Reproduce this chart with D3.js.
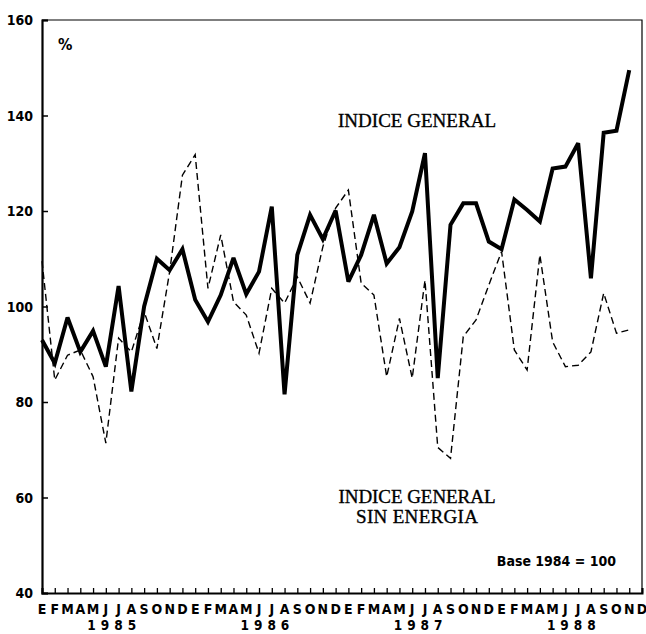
<!DOCTYPE html>
<html>
<head>
<meta charset="utf-8">
<title>Indice general</title>
<script src="https://d3js.org/d3.v7.min.js"></script>
<style>
	body { margin: 0; background: #fff; }
	svg { display: block; }
	.tick-label { font-family: "Liberation Sans Narrow", "DejaVu Sans Condensed", sans-serif; font-weight: bold; font-size: 14px; fill: #000; }
	.serif-label { font-family: "Liberation Serif", "DejaVu Serif", serif; font-size: 19px; fill: #000; stroke: #000; stroke-width: 0.35px; }
</style>
</head>
<body>
<svg id="chart" width="646" height="634"></svg>
<script>

	// months (Enero .. Diciembre) and years
	var monthLetters = ["E", "F", "M", "A", "M", "J", "J", "A", "S", "O", "N", "D"];
	var years = ["1985", "1986", "1987", "1988"];
	var yTicks = [40, 60, 80, 100, 120, 140, 160];

	// INDICE GENERAL, enero 1985 - noviembre 1988
	var general = [
		93.0, 88.1, 97.7, 90.5, 94.9, 87.4, 104.3, 82.2, 100.0, 110.0, 107.6, 112.0,
		101.4, 96.8, 102.4, 110.2, 102.6, 107.3, 120.9, 81.6, 110.8, 119.2, 114.1, 120.1,
		105.2, 110.8, 119.2, 109.0, 112.4, 119.9, 132.1, 85.0, 117.1, 121.6, 121.6, 113.6,
		112.0, 122.4, 120.2, 117.8, 128.9, 129.3, 134.2, 105.9, 136.4, 136.8, 149.5
	];

	// INDICE GENERAL SIN ENERGIA
	var sinEnergia = [
		109.5, 84.6, 89.8, 90.9, 85.3, 71.4, 93.4, 90.5, 98.9, 91.2, 107.3, 127.5,
		131.8, 103.8, 115.0, 101.0, 98.2, 90.2, 103.8, 100.7, 106.2, 100.7, 112.5, 120.6,
		124.4, 104.9, 102.4, 85.3, 97.5, 85.0, 105.5, 70.5, 68.2, 93.7, 97.2, 104.5,
		111.5, 90.9, 86.7, 110.8, 92.6, 87.4, 87.7, 90.5, 102.8, 94.4, 95.1
	];

	var plotLeft = 42, plotRight = 642, plotTop = 20, plotBottom = 593;

	// one key per month
	var months = [];
	years.forEach(function(yr) {
		monthLetters.forEach(function(m, i) { months.push(yr + "-" + i); });
	});

	var x = d3.scalePoint().domain(months).range([plotLeft, plotRight]);
	var y = d3.scaleLinear().domain([40, 160]).range([plotBottom, plotTop]);

	var svg = d3.select("#chart");

	// frame
	svg.append("path")
		.attr("d", "M" + plotLeft + "," + plotTop + "H" + plotRight + "V" + plotBottom)
		.attr("fill", "none")
		.attr("stroke", "#000")
		.attr("stroke-width", 1.2);

	// y axis, ticks pointing inwards
	var yAxis = d3.axisRight(y).tickValues(yTicks).tickSize(6).tickFormat("");
	var gy = svg.append("g").attr("transform", "translate(" + plotLeft + ",0)").call(yAxis);
	gy.select(".domain").attr("stroke-width", 2.2);
	gy.selectAll(".tick line").attr("stroke-width", 1.5);

	svg.append("g").selectAll("text")
		.data(yTicks)
		.enter()
		.append("text")
		.attr("class", "tick-label")
		.attr("x", plotLeft - 9)
		.attr("y", function(d) { return y(d) + 5; })
		.attr("text-anchor", "end")
		.text(function(d) { return d; });

	// x axis, small ticks upwards
	var xAxis = d3.axisTop(x).tickSize(5).tickFormat("");
	var gx = svg.append("g").attr("transform", "translate(0," + plotBottom + ")").call(xAxis);
	gx.select(".domain").attr("stroke-width", 2);
	gx.selectAll(".tick line").attr("stroke-width", 1.3);

	svg.append("g").selectAll("text")
		.data(months)
		.enter()
		.append("text")
		.attr("class", "tick-label")
		.attr("x", function(d) { return x(d); })
		.attr("y", 614)
		.attr("text-anchor", "middle")
		.text(function(d) { return monthLetters[+d.split("-")[1]]; });

	svg.append("g").selectAll("text")
		.data(years)
		.enter()
		.append("text")
		.attr("class", "tick-label")
		.attr("x", function(d) { return (x(d + "-0") + x(d + "-11")) / 2 + 2; })
		.attr("y", 630)
		.attr("text-anchor", "middle")
		.attr("letter-spacing", "5px")
		.style("font-size", "13.5px")
		.text(function(d) { return d; });

	// lines
	var line = d3.line()
		.x(function(d, i) { return x(months[i]); })
		.y(function(d) { return y(d); });

	svg.append("path")
		.datum(sinEnergia)
		.attr("d", line)
		.attr("fill", "none")
		.attr("stroke", "#000")
		.attr("stroke-width", 1.4)
		.attr("stroke-dasharray", "7,4");

	svg.append("path")
		.datum(general)
		.attr("d", line)
		.attr("fill", "none")
		.attr("stroke", "#000")
		.attr("stroke-width", 4)
		.attr("stroke-linejoin", "miter")
		.attr("stroke-miterlimit", 3);

	// texts
	svg.append("text")
		.attr("x", 58).attr("y", 50)
		.attr("class", "tick-label")
		.style("font-size", "16px")
		.text("%");

	svg.append("text")
		.attr("class", "serif-label")
		.attr("x", 417).attr("y", 127)
		.attr("text-anchor", "middle")
		.attr("textLength", 158)
		.text("INDICE GENERAL");

	svg.append("text")
		.attr("class", "serif-label")
		.attr("x", 417).attr("y", 503)
		.attr("text-anchor", "middle")
		.attr("textLength", 157)
		.text("INDICE GENERAL");

	svg.append("text")
		.attr("class", "serif-label")
		.attr("x", 417).attr("y", 523)
		.attr("text-anchor", "middle")
		.attr("textLength", 122)
		.text("SIN ENERGIA");

	svg.append("text")
		.attr("class", "tick-label")
		.attr("x", 616).attr("y", 566)
		.attr("text-anchor", "end")
		.style("font-size", "14px")
		.text("Base 1984 = 100");

</script>
</body>
</html>
